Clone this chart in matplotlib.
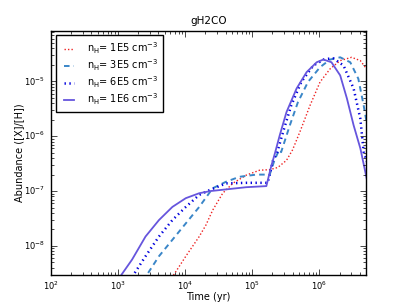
import matplotlib
matplotlib.use('Agg')
import matplotlib.pyplot as plt
import numpy as np

# log10(time / yr) and log10(abundance)
t_1e5 = [3.78, 3.83, 4.01, 4.21, 4.31, 4.41, 4.56, 4.71, 4.91, 5.11, 5.26, 5.38, 5.51, 5.60,
         5.71, 5.86, 6.01, 6.16, 6.31, 6.48, 6.61, 6.72]
a_1e5 = [-8.65, -8.53, -8.19, -7.83, -7.62, -7.35, -7.04, -6.86, -6.71, -6.62, -6.61, -6.57, -6.44, -6.25,
         -5.92, -5.44, -5.01, -4.77, -4.62, -4.56, -4.62, -4.80]

t_3e5 = [3.38, 3.43, 3.61, 3.81, 4.01, 4.21, 4.41, 4.61, 4.81, 5.06, 5.26, 5.33, 5.40, 5.43,
         5.56, 5.68, 5.83, 6.01, 6.16, 6.31, 6.46, 6.58, 6.66, 6.72]
a_3e5 = [-8.65, -8.53, -8.19, -7.89, -7.59, -7.29, -6.95, -6.83, -6.74, -6.70, -6.70, -6.44, -6.25, -6.29,
         -5.80, -5.38, -5.01, -4.74, -4.60, -4.56, -4.65, -4.95, -5.44, -5.86]

t_6e5 = [3.18, 3.23, 3.41, 3.61, 3.81, 4.01, 4.21, 4.37, 4.61, 4.91, 5.23, 5.31, 5.37,
         5.46, 5.58, 5.73, 5.91, 6.08, 6.21, 6.36, 6.51, 6.61, 6.66, 6.72]
a_6e5 = [-8.65, -8.53, -8.19, -7.83, -7.53, -7.29, -7.07, -6.98, -6.86, -6.85, -6.85, -6.44, -6.30,
         -5.92, -5.44, -5.01, -4.71, -4.59, -4.58, -4.71, -5.13, -5.68, -6.29, -6.50]

t_1e6 = [3.00, 3.05, 3.21, 3.41, 3.61, 3.81, 4.01, 4.21, 4.38, 4.61, 4.91, 5.21, 5.28, 5.34,
         5.41, 5.51, 5.66, 5.81, 5.96, 6.06, 6.18, 6.31, 6.41, 6.51, 6.61, 6.72]
a_1e6 = [-8.65, -8.53, -8.25, -7.83, -7.53, -7.29, -7.13, -7.04, -7.00, -6.97, -6.93, -6.91, -6.56, -6.30,
         -5.98, -5.56, -5.13, -4.83, -4.65, -4.60, -4.65, -4.89, -5.31, -5.80, -6.22, -6.86]

labels = [r'n$_{\rm H}$= 1E5 cm$^{-3}$', r'n$_{\rm H}$= 3E5 cm$^{-3}$',
          r'n$_{\rm H}$= 6E5 cm$^{-3}$', r'n$_{\rm H}$= 1E6 cm$^{-3}$']

plt.style.use('classic')
plt.rcParams['mathtext.fontset'] = 'dejavusans'
plt.rcParams['font.size'] = 7

fig = plt.figure(figsize=(4.07, 3.05), dpi=100, facecolor='white')
ax = fig.add_subplot(111)
fig.subplots_adjust(left=0.125, right=0.9, bottom=0.1, top=0.9)

ax.plot(10 ** np.array(t_1e5), 10 ** np.array(a_1e5), color='#ee2222', ls=(0, (1, 1.5)), lw=1.0, label=labels[0])
ax.plot(10 ** np.array(t_3e5), 10 ** np.array(a_3e5), color='#3a86c8', ls=(0, (4, 3)), lw=1.4, label=labels[1])
ax.plot(10 ** np.array(t_6e5), 10 ** np.array(a_6e5), color='#0000dd', ls=(0, (1, 2.5)), lw=1.8, label=labels[2])
ax.plot(10 ** np.array(t_1e6), 10 ** np.array(a_1e6), color='#6655dd', ls='-', lw=1.3, label=labels[3])

ax.set_xscale('log')
ax.set_yscale('log')
ax.set_xlim(1e2, 5e6)
ax.set_ylim(3e-9, 8.5e-5)

ax.set_title('gH2CO', fontsize=7.5)
ax.set_xlabel('Time (yr)', fontsize=7, labelpad=0)
ax.set_ylabel('Abundance ([X]/[H])', fontsize=7, labelpad=0.5)
ax.tick_params(labelsize=6)

ax.legend(loc='upper left', fontsize=7, handlelength=1.7, handletextpad=1.0,
          labelspacing=0.15, borderpad=0.5, numpoints=2)

fig.savefig('out.png', dpi=100, facecolor='white')
